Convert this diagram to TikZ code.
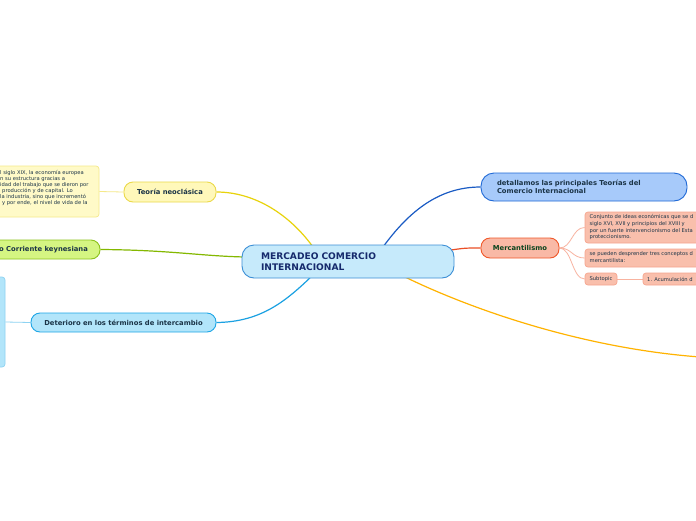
\documentclass[tikz,border=0pt]{standalone}
\usepackage{fontspec}
\setmainfont{DejaVu Sans}
\usetikzlibrary{backgrounds}
\definecolor{txt}{HTML}{1B3447}
\definecolor{ctrfill}{HTML}{C6EAFB}\definecolor{ctrdraw}{HTML}{3C8FD6}
\definecolor{yfill}{HTML}{FFF8BA}\definecolor{ydraw}{HTML}{EBD94A}\definecolor{yline}{HTML}{E8D30C}
\definecolor{nfill}{HTML}{FFFAC8}\definecolor{ndraw}{HTML}{F5E98A}
\definecolor{gfill}{HTML}{D5F582}\definecolor{gdraw}{HTML}{8CC21C}\definecolor{gline}{HTML}{84B800}
\definecolor{cfill}{HTML}{B2E5FA}\definecolor{cdraw}{HTML}{1EA6E6}\definecolor{cline}{HTML}{1BA1E2}\definecolor{clight}{HTML}{8ED3F2}
\definecolor{bfill}{HTML}{A7CAFA}\definecolor{bdraw}{HTML}{1F69D6}\definecolor{bline}{HTML}{1A5BC4}
\definecolor{mfill}{HTML}{F9B9A6}\definecolor{mdraw}{HTML}{F0582A}\definecolor{mline}{HTML}{EB4F26}
\definecolor{sfill}{HTML}{F9BFAC}\definecolor{sdraw}{HTML}{F6A58E}\definecolor{sline}{HTML}{F8B3A0}
\definecolor{oline}{HTML}{FFB300}
\tikzset{
  topic/.style={draw, line width=0.9pt, rounded corners=9pt, inner sep=0pt, font=\fontsize{6.8}{8.2}\selectfont\bfseries, text=txt},
  note/.style={draw, line width=0.7pt, rounded corners=3pt, inner sep=0pt},
  notetext/.style={font=\fontsize{5.2}{6.6}\selectfont, text=txt, inner sep=0pt, align=left},
  conn/.style={line width=1.2pt},
}
\begin{document}
\begin{tikzpicture}[x=1pt,y=-1pt]
\clip (0,0) rectangle (696,520);
% nodes
\node[topic, fill=ctrfill, draw=ctrdraw, rounded corners=12pt, minimum width=212pt, minimum height=33pt, text width=174pt, align=left, font=\fontsize{9.1}{11}\selectfont\bfseries, text=txt!80!blue] (ctr) at (348,261.5) {MERCADEO COMERCIO\\INTERNACIONAL};
\node[topic, fill=yfill, draw=ydraw, minimum width=92pt, minimum height=20pt] (neo) at (170,192) {Teoría neoclásica};
\node[note, fill=nfill, draw=ndraw, minimum width=159pt, minimum height=51pt] (nnote) at (19.5,191.5) {};
\node[notetext, anchor=north west, font=\fontsize{5.2}{6}\selectfont] (nnotet) at (0,170) {l siglo XIX, la economía europea\\n su estructura gracias a\\idad del trabajo que se dieron por\\\hspace{2pt}producción y de capital. Lo\\la industria, sino que incrementó\\\hspace{2pt}y por ende, el nivel de vida de la};
\node[topic, fill=gfill, draw=gdraw, minimum width=160pt, minimum height=19pt] (key) at (20,249.5) {};
\node[font=\fontsize{6.8}{8}\selectfont\bfseries, text=txt, anchor=west, inner sep=0pt] (keyt) at (-1,249.5) {o Corriente keynesiana};
\node[topic, fill=cfill, draw=cdraw, minimum width=185pt, minimum height=19pt] (det) at (123.5,322.5) {Deterioro en los términos de intercambio};
\node[note, fill=cfill, draw=clight, minimum width=60pt, minimum height=90pt] (cblk) at (-25,322) {};
\node[topic, fill=bfill, draw=bdraw, rounded corners=13pt, minimum width=206pt, minimum height=28pt, text width=174pt, align=left] (teo) at (584,187) {detallamos las principales Teorías del\\Comercio Internacional};
\node[topic, fill=mfill, draw=mdraw, minimum width=78pt, minimum height=20pt, text=txt!70!green!60!black] (mer) at (520,248) {Mercantilismo};
\node[note, fill=sfill, draw=sdraw, minimum width=180pt, minimum height=31pt] (s1) at (675,227.5) {};
\node[notetext, anchor=north west] (s1t) at (589.5,214.5) {Conjunto de ideas económicas que se d\\siglo XVI, XVII y principios del XVIII y\\por un fuerte intervencionismo del Esta\\proteccionismo.};
\node[note, fill=sfill, draw=sdraw, minimum width=180pt, minimum height=18pt] (s2) at (675,258) {};
\node[notetext, anchor=north west] (s2t) at (589.5,251.5) {se pueden desprender tres conceptos d\\mercantilista:};
\node[note, fill=sfill, draw=sdraw, minimum width=32pt, minimum height=12pt] (s3) at (601,279) {};
\node[notetext] (s3t) at (601,279) {Subtopic};
\node[note, fill=sfill, draw=sdraw, minimum width=120pt, minimum height=12pt] (s4) at (703,279) {};
\node[notetext, anchor=west] (s4t) at (647,279) {1. Acumulación d};
\coordinate (eneo) at (313,247);
\coordinate (ekey) at (245,257);
\coordinate (edet) at (313,275);
\coordinate (eteo) at (383,247);
\coordinate (emer) at (451,250);
\coordinate (eor1) at (403,276);
\coordinate (eor2) at (700,357);
\begin{scope}[on background layer]
\fill[white] (0,0) rectangle (696,520);
\draw[conn, yline] (neo.east) .. controls (255,192) and (290,215) .. (eneo);
\draw[conn, gline] (key.east) .. controls (170,250) and (200,256) .. (ekey);
\draw[conn, cline] (det.east) .. controls (262,322) and (287,300) .. (edet);
\draw[conn, bline] (eteo) .. controls (410,210) and (440,187) .. (teo.west);
\draw[conn, mline] (emer) .. controls (465,248) .. (mer.west);
\draw[conn, oline] (eor1) .. controls (468,308) and (580,348) .. (eor2);
\draw[line width=0.8pt, ndraw] (nnote.east) -- (neo.west);
\draw[line width=0.8pt, clight] (cblk.east) -- (det.west);
\draw[line width=0.8pt, sline] (mer.east) .. controls (572,248) and (572,227.5) .. (s1.west);
\draw[line width=0.8pt, sline] (mer.east) .. controls (572,248) and (572,258) .. (s2.west);
\draw[line width=0.8pt, sline] (mer.east) .. controls (572,248) and (572,279) .. (s3.west);
\draw[line width=0.8pt, sline] (s3.east) -- (s4.west);
\end{scope}
\end{tikzpicture}
\end{document}
